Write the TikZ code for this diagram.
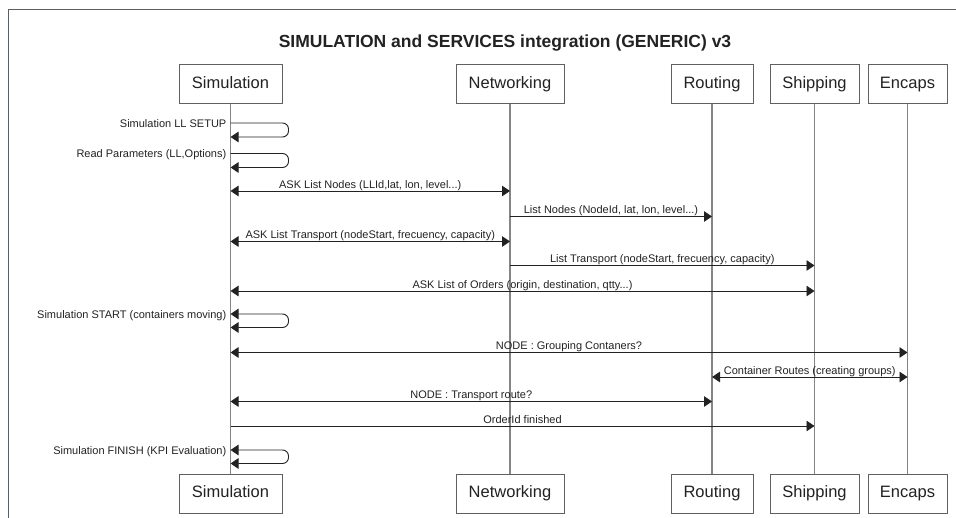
\documentclass[tikz,border=0pt]{standalone}
\usepackage{fontspec}
\setmainfont{Liberation Sans}
\usetikzlibrary{arrows.meta}
\definecolor{framegray}{HTML}{56606A}
\definecolor{boxgray}{HTML}{606060}
\definecolor{lifegray}{HTML}{858585}
\definecolor{ink}{HTML}{222222}
\begin{document}
\begin{tikzpicture}[x=1pt,y=-1pt,
  part/.style={draw=boxgray, line width=1pt, fill=white, minimum height=39pt,
    inner sep=0pt, text height=12pt, text depth=3.5pt,
    font=\fontsize{16.5}{18}\selectfont, text=ink},
  life/.style={draw=lifegray, line width=1.4pt},
  msg/.style={draw=ink, line width=0.9pt},
  tipR/.style={-{Triangle[length=8pt,width=10.5pt]}},
  tipB/.style={{Triangle[length=8pt,width=10.5pt]}-{Triangle[length=8pt,width=10.5pt]}},
  lbl/.style={font=\fontsize{11}{12}\selectfont, text=ink, anchor=base, yshift=2.5pt, inner sep=0pt},
  loopl/.style={font=\fontsize{11}{12}\selectfont, text=ink, anchor=base east, inner sep=0pt},
  selfloop/.style={msg, rounded corners=6pt}
]
\useasboundingbox (0,0) rectangle (956,518);
% frame
\draw[framegray, line width=1pt] (8,518) -- (8,10) -- (956,10);
% title
\node[font=\bfseries\fontsize{17.5}{20}\selectfont, text=ink] (title) at (505,43)
  {SIMULATION and SERVICES integration (GENERIC) v3};
% participants
\node[part, minimum width=103pt] (simT) at (230.5,84.5) {Simulation};
\node[part, minimum width=108pt] (netT) at (510,84.5) {Networking};
\node[part, minimum width=82pt]  (rouT) at (712,84.5) {Routing};
\node[part, minimum width=89pt]  (shiT) at (814.5,84.5) {Shipping};
\node[part, minimum width=79pt]  (encT) at (907.5,84.5) {Encaps};
\node[part, minimum width=103pt] (simB) at (230.5,493.5) {Simulation};
\node[part, minimum width=108pt] (netB) at (510,493.5) {Networking};
\node[part, minimum width=82pt]  (rouB) at (712,493.5) {Routing};
\node[part, minimum width=89pt]  (shiB) at (814.5,493.5) {Shipping};
\node[part, minimum width=79pt]  (encB) at (907.5,493.5) {Encaps};
% lifelines
\draw[life] (simT) -- (simB);
\draw[life] (netT) -- (netB);
\draw[life] (rouT) -- (rouB);
\draw[life] (shiT) -- (shiB);
\draw[life] (encT) -- (encB);
% self loops
\draw[selfloop, tipR] (simT |- 0,123) -- ++(58,0) -- ++(0,14) -- ++(-58,0);
\path (simT |- 0,123) ++(-4,4.5) node[loopl] {Simulation LL SETUP};
\draw[selfloop, tipR] (simT |- 0,153.5) -- ++(58,0) -- ++(0,14) -- ++(-58,0);
\path (simT |- 0,153.5) ++(-4,4.5) node[loopl] {Read Parameters (LL,Options)};
% messages
\draw[msg, tipB] (simT |- 0,191) -- node[lbl] {ASK List Nodes (LLId,lat, lon, level...)} (netT |- 0,191);
\draw[msg, tipR] (netT |- 0,216.5) -- node[lbl] {List Nodes (NodeId, lat, lon, level...)} (rouT |- 0,216.5);
\draw[msg, tipB] (simT |- 0,241.5) -- node[lbl] {ASK List Transport (nodeStart, frecuency, capacity)} (netT |- 0,241.5);
\draw[msg, tipR] (netT |- 0,265.5) -- node[lbl] {List Transport (nodeStart, frecuency, capacity)} (shiT |- 0,265.5);
\draw[msg, tipB] (simT |- 0,291) -- node[lbl] {ASK List of Orders (origin, destination, qtty...)} (shiT |- 0,291);
\draw[selfloop, tipB] (simT |- 0,314) -- ++(58,0) -- ++(0,13.5) -- ++(-58,0);
\path (simT |- 0,314) ++(-4,4.5) node[loopl] {Simulation START (containers moving)};
\draw[msg, tipB] (simT |- 0,352.5) -- node[lbl] {NODE : Grouping Contaners?} (encT |- 0,352.5);
\draw[msg, tipB] (rouT |- 0,377) -- node[lbl] {Container Routes (creating groups)} (encT |- 0,377);
\draw[msg, tipB] (simT |- 0,401.5) -- node[lbl] {NODE : Transport route?} (rouT |- 0,401.5);
\draw[msg, tipR] (simT |- 0,426) -- node[lbl] {OrderId finished} (shiT |- 0,426);
\draw[selfloop, tipB] (simT |- 0,450) -- ++(58,0) -- ++(0,13.5) -- ++(-58,0);
\path (simT |- 0,450) ++(-4,4.5) node[loopl] {Simulation FINISH (KPI Evaluation)};
\end{tikzpicture}
\end{document}
